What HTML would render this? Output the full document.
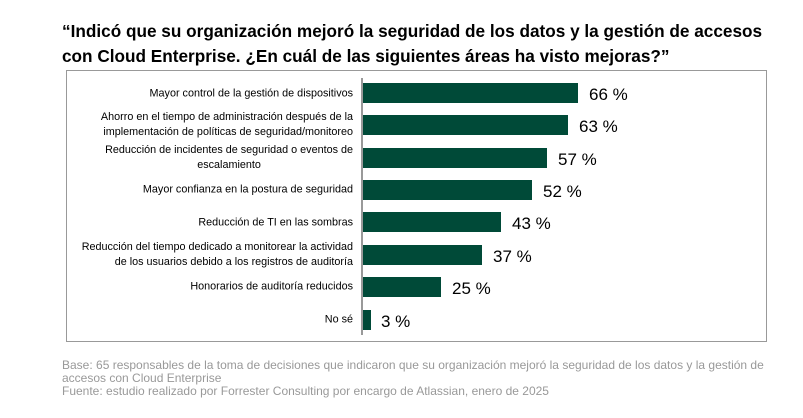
<!DOCTYPE html><html><head><meta charset="utf-8"><style>
body{margin:0;width:803px;height:418px;background:#fff;position:relative;font-family:"Liberation Sans",sans-serif;overflow:hidden}
.t{position:absolute;left:62px;top:19px;font-size:17.2px;font-weight:bold;line-height:25px;color:#000;white-space:nowrap}
.box{position:absolute;left:66px;top:70px;width:701px;height:272px;border:1px solid #999;box-sizing:border-box}
.ax{position:absolute;left:361px;top:78px;width:2px;height:257px;background:#999}
.b{position:absolute;left:363px;height:20px;background:#004a38}
.v{position:absolute;font-size:17px;color:#000;line-height:20px}
.l{position:absolute;right:450px;text-align:right;font-size:10.8px;line-height:15px;color:#000;transform:translateY(-50%);white-space:nowrap}
.c{text-align:center}
.f{position:absolute;left:62px;top:359px;font-size:12px;line-height:13px;color:#999;white-space:nowrap}
</style></head><body>
<div class="t">“Indicó que su organización mejoró la seguridad de los datos y la gestión de accesos<br>con Cloud Enterprise. ¿En cuál de las siguientes áreas ha visto mejoras?”</div>
<div class="box"></div><div class="ax"></div>
<div class="l" style="top:94px">Mayor control de la gestión de dispositivos</div>
<div class="l" style="top:125px">Ahorro en el tiempo de administración después de la<br>implementación de políticas de seguridad/monitoreo</div>
<div class="l c" style="top:158px">Reducción de incidentes de seguridad o eventos de<br>escalamiento</div>
<div class="l" style="top:190px">Mayor confianza en la postura de seguridad</div>
<div class="l" style="top:223px">Reducción de TI en las sombras</div>
<div class="l" style="top:255px">Reducción del tiempo dedicado a monitorear la actividad<br>de los usuarios debido a los registros de auditoría</div>
<div class="l" style="top:287px">Honorarios de auditoría reducidos</div>
<div class="l" style="top:320px">No sé</div>
<div class="b" style="top:83px;width:215px"></div><div class="v" style="top:85px;left:589px">66 %</div>
<div class="b" style="top:115px;width:205px"></div><div class="v" style="top:117px;left:579px">63 %</div>
<div class="b" style="top:148px;width:184px"></div><div class="v" style="top:150px;left:558px">57 %</div>
<div class="b" style="top:180px;width:169px"></div><div class="v" style="top:182px;left:543px">52 %</div>
<div class="b" style="top:212px;width:138px"></div><div class="v" style="top:214px;left:512px">43 %</div>
<div class="b" style="top:245px;width:119px"></div><div class="v" style="top:247px;left:493px">37 %</div>
<div class="b" style="top:277px;width:78px"></div><div class="v" style="top:279px;left:452px">25 %</div>
<div class="b" style="top:310px;width:8px"></div><div class="v" style="top:312px;left:381px">3 %</div>
<div class="f">Base: 65 responsables de la toma de decisiones que indicaron que su organización mejoró la seguridad de los datos y la gestión de<br>accesos con Cloud Enterprise<br>Fuente: estudio realizado por Forrester Consulting por encargo de Atlassian, enero de 2025</div>
</body></html>
